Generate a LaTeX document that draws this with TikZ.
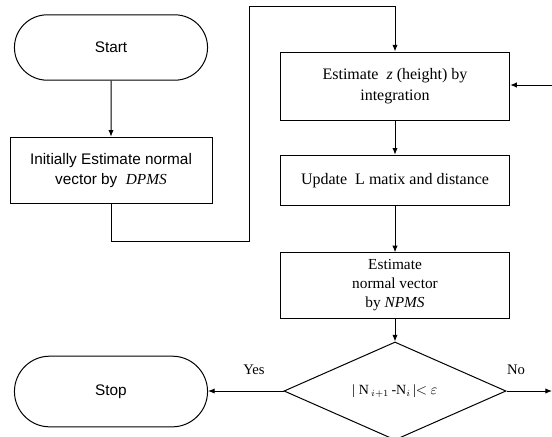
\documentclass[tikz,border=0pt]{standalone}
\usepackage{fontspec}
\setmainfont{Liberation Serif}
\newfontfamily\flowsans{Liberation Sans}
\usetikzlibrary{shapes.misc,shapes.geometric,arrows.meta}

\tikzset{every picture/.style={line width=0.75pt}}

\begin{document}
\begin{tikzpicture}[x=0.75pt,y=0.75pt,yscale=-1,xscale=1,
	terminal/.style={draw,rounded rectangle,minimum width=151.5pt,minimum height=49pt,font=\flowsans\fontsize{11.5}{13}\selectfont},
	procbox/.style={draw,rectangle,align=center,minimum width=172pt,font=\fontsize{12}{15.5}\selectfont},
	decision/.style={draw,diamond,minimum width=166.5pt,minimum height=64.5pt,inner sep=0pt,font=\fontsize{10.5}{12}\selectfont},
	flow/.style={-{Latex[length=5pt,width=4pt]}},
	tag/.style={font=\fontsize{11}{12}\selectfont}]
		\useasboundingbox (0,0) rectangle (552,436);
		
		% Terminals
		\node[terminal] (start) at (111,47.5) {Start};
		\node[terminal,minimum height=53pt] (stop) at (111,391.5) {Stop};
		
		% Process boxes
		\node[procbox,minimum width=151.5pt,minimum height=50pt,font=\flowsans\fontsize{11.5}{15}\selectfont] (init) at (111,170.5) {Initially Estimate normal\\vector by \ \textrm{\textit{DPMS}}};
		\node[procbox,minimum height=51pt] (estz) at (395,86) {Estimate \ \textit{z} (height) by\\integration};
		\node[procbox,minimum height=38pt] (update) at (395,180.5) {Update \ L matix and distance};
		\node[procbox,minimum height=49pt,font=\fontsize{11.5}{14.2}\selectfont] (npms) at (395,285.5) {Estimate\\normal vector\\by \textit{NPMS}};
		
		% Decision
		\node[decision] (test) at (395,391) {| N\,$_{i+1}$\,-N$_{i}$\,|$<$ $\varepsilon$};
		
		% Bend points and free ends
		\coordinate (low) at (249,241);
		\coordinate (high) at (249,6);
		\coordinate (back) at (552,85);
		\coordinate (out) at (552,391);
		
		% Connectors
		\draw[flow] (start) -- (init);
		\draw[flow] (init.south) |- (low) -- (high) -| (estz.north);
		\draw[flow] (back) -- (estz.east |- back);
		\draw[flow] (estz) -- (update);
		\draw[flow] (update) -- (npms);
		\draw[flow] (npms) -- (test);
		\draw[flow] (test.west) -- (stop.east |- test.west);
		\draw[flow] (test.east) -- (out);
		
		% Text Node
		\node[tag] (yes) at (254,370) {Yes};
		% Text Node
		\node[tag] (no) at (516,370) {No};
\end{tikzpicture}
\end{document}
